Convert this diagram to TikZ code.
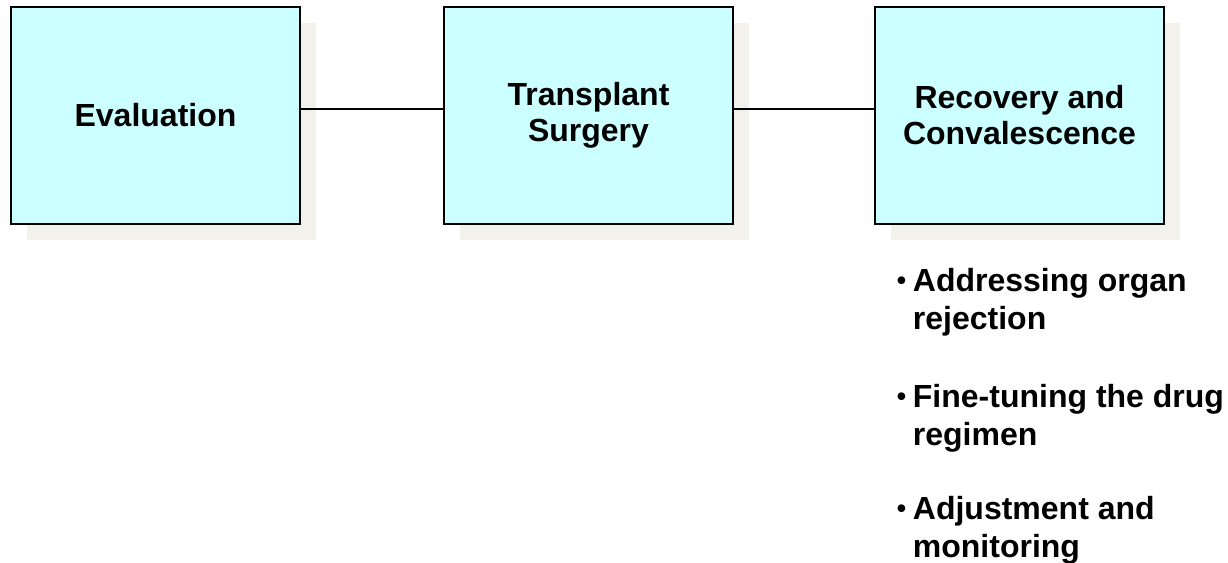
\documentclass[tikz,border=0pt]{standalone}
\usepackage{fontspec}
\setmainfont{Liberation Sans}
\usetikzlibrary{positioning,shadows}
\definecolor{boxfill}{RGB}{204,255,255}
\definecolor{shadowgray}{RGB}{242,241,236}
\newcommand{\pointmark}{\llap{\raisebox{1.5pt}{\fontsize{20}{20}\selectfont\textbullet}\hspace{5pt}}}

\begin{document}
\begin{tikzpicture}[
  x=0.75pt, y=-0.75pt,
  stage_node/.style={draw, line width=1.5pt, fill=boxfill,
    minimum width=216.75pt, minimum height=162.5pt, inner sep=0pt,
    align=center, font=\fontsize{24}{27}\selectfont\bfseries,
    drop shadow={shadow xshift=12pt, shadow yshift=-12pt,
      fill=shadowgray, opacity=1}},
  point_node/.style={inner sep=0pt, align=left,
    font=\fontsize{24}{28.5}\selectfont\bfseries},
  link/.style={draw, line width=1.5pt},
]
\useasboundingbox (0,0) rectangle (1228,562);
\node[stage_node] (eval) at (155.5,115.5) {Evaluation};
\node[stage_node, right=106.5pt of eval] (surg) {Transplant\\Surgery};
\node[stage_node, right=105pt of surg] (recov) {Recovery and\\Convalescence};

\draw[link] ([yshift=5pt]eval.east) -- ([yshift=5pt]surg.west);
\draw[link] ([yshift=5pt]surg.east) -- ([yshift=5pt]recov.west);

\node[point_node, below right=32.5pt and 29pt of recov.south west] (reject)
  {\pointmark Addressing organ\\rejection};
\node[point_node, below right=35.5pt and 0pt of reject.south west] (drug)
  {\pointmark Fine-tuning the drug\\regimen};
\node[point_node, below right=32.5pt and 0pt of drug.south west] (adjust)
  {\pointmark Adjustment and\\monitoring};
\end{tikzpicture}
\end{document}
